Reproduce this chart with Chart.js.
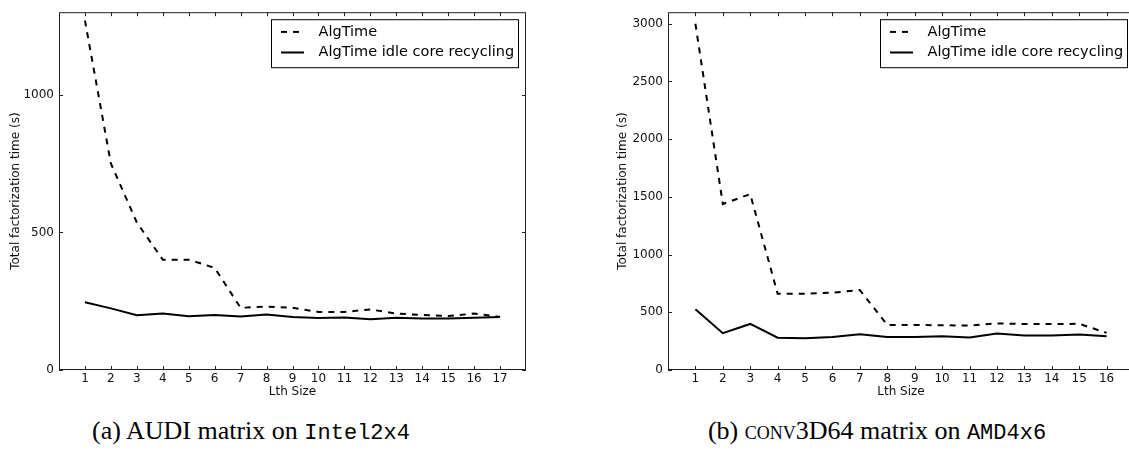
<!DOCTYPE html>
<html lang="en">
<head>
    <meta charset="UTF-8">
    <title>AlgTime vs AlgTime idle core recycling</title>
    <style>
        html, body {
            margin: 0;
            padding: 0;
            width: 1129px;
            height: 457px;
            overflow: hidden;
            background: #fff;
        }
        .plot {
            position: absolute;
            top: 0;
        }
        #audiChart { left: 0; }
        #convChart { left: 560px; }
        .caption {
            position: absolute;
            top: 418px;
            width: 500px;
            text-align: center;
            font-family: "Liberation Serif", serif;
            font-size: 26px;
            line-height: 26px;
            color: #000;
            white-space: nowrap;
        }
        .tt {
            font-family: "Liberation Mono", monospace;
            font-size: 22px;
        }
        .sc { font-variant: small-caps; }
    </style>
    <script src="https://cdn.jsdelivr.net/npm/chart.js"></script>
</head>
<body>
    <canvas id="audiChart" class="plot" width="560" height="400"></canvas>
    <canvas id="convChart" class="plot" width="600" height="400"></canvas>
    <div class="caption" style="left:1px">(a) AUDI matrix on <span class="tt">Intel2x4</span></div>
    <div class="caption" style="left:627px">(b) <span class="sc">conv</span>3D64 matrix on <span class="tt">AMD4x6</span></div>

    <script>
        // (a) AUDI matrix on Intel2x4
        const lthAudi = [1, 2, 3, 4, 5, 6, 7, 8, 9, 10, 11, 12, 13, 14, 15, 16, 17];
        const algTimeAudi = [1270, 750, 536, 401, 401, 371, 226, 230, 226, 211, 211, 220, 205, 200, 196, 205, 193];
        const recyclingAudi = [246, 224, 199, 205, 195, 200, 194, 202, 193, 189, 191, 184, 190, 187, 187, 190, 193];
        const yTicksAudi = [0, 500, 1000];

        // (b) conv3D64 matrix on AMD4x6
        const lthConv = [1, 2, 3, 4, 5, 6, 7, 8, 9, 10, 11, 12, 13, 14, 15, 16];
        const algTimeConv = [3000, 1438, 1524, 660, 660, 670, 692, 390, 390, 388, 385, 404, 398, 398, 400, 322];
        const recyclingConv = [527, 319, 399, 280, 275, 285, 310, 285, 285, 292, 282, 316, 299, 299, 307, 292];
        const yTicksConv = [0, 500, 1000, 1500, 2000, 2500, 3000];

        const seriesNames = ['AlgTime', 'AlgTime idle core recycling'];
        const FONT = 'DejaVu Sans';

        // frame, inward ticks on all four sides, and a boxed legend inside the plot
        const framePlugin = {
            id: 'frame',
            afterDatasetsDraw(chart, args, opts) {
                const { ctx, chartArea: a, scales: { x, y } } = chart;
                ctx.save();
                ctx.strokeStyle = '#222';
                ctx.lineWidth = 1;
                ctx.setLineDash([]);
                ctx.strokeRect(a.left + 0.5, a.top + 0.5, a.right - a.left - 1, a.bottom - a.top - 1);
                ctx.beginPath();
                x.ticks.forEach(t => {
                    const px = Math.round(x.getPixelForValue(t.value)) + 0.5;
                    ctx.moveTo(px, a.bottom); ctx.lineTo(px, a.bottom - 4);
                    ctx.moveTo(px, a.top); ctx.lineTo(px, a.top + 4);
                });
                y.ticks.forEach(t => {
                    const py = Math.round(y.getPixelForValue(t.value)) + 0.5;
                    ctx.moveTo(a.left, py); ctx.lineTo(a.left + 4, py);
                    ctx.moveTo(a.right, py); ctx.lineTo(a.right - 4, py);
                });
                ctx.stroke();

                // legend
                ctx.font = '14.5px "' + FONT + '"';
                const labels = chart.data.datasets.map(d => d.label);
                const textW = Math.max(...labels.map(l => ctx.measureText(l).width));
                const boxW = Math.round(10 + 23 + 14.5 + textW + 4);
                const boxH = 48;
                const bx = a.right - opts.inset - boxW;
                const by = a.top + 7;
                ctx.fillStyle = '#fff';
                ctx.fillRect(bx, by, boxW, boxH);
                ctx.strokeStyle = '#000';
                ctx.strokeRect(bx + 0.5, by + 0.5, boxW, boxH);
                const rows = [12.7, 33.3];
                chart.data.datasets.forEach((d, i) => {
                    const ry = by + rows[i];
                    ctx.beginPath();
                    ctx.setLineDash(d.borderDash || []);
                    ctx.lineWidth = d.borderWidth;
                    ctx.strokeStyle = d.borderColor;
                    ctx.moveTo(bx + 10, ry);
                    ctx.lineTo(bx + 33, ry);
                    ctx.stroke();
                    ctx.setLineDash([]);
                    ctx.fillStyle = '#000';
                    ctx.textBaseline = 'middle';
                    ctx.textAlign = 'left';
                    ctx.fillText(d.label, bx + 47.5, ry);
                });
                ctx.restore();
            }
        };

        function makeChart(id, lth, algTime, recycling, yTicks, cfg) {
            const ctx = document.getElementById(id).getContext('2d');
            return new Chart(ctx, {
                type: 'line',
                data: {
                    datasets: [
                        {
                            label: seriesNames[0],
                            data: lth.map((v, i) => ({ x: v, y: algTime[i] })),
                            borderColor: '#000',
                            borderWidth: 2,
                            borderDash: [6, 6],
                            pointRadius: 0,
                            tension: 0,
                            fill: false
                        },
                        {
                            label: seriesNames[1],
                            data: lth.map((v, i) => ({ x: v, y: recycling[i] })),
                            borderColor: '#000',
                            borderWidth: 2,
                            pointRadius: 0,
                            tension: 0,
                            fill: false
                        }
                    ]
                },
                options: {
                    responsive: false,
                    animation: false,
                    events: [],
                    layout: { padding: { top: 7, right: cfg.padRight, left: 0, bottom: 0 } },
                    plugins: {
                        legend: { display: false },
                        tooltip: { enabled: false },
                        frame: { inset: cfg.inset }
                    },
                    scales: {
                        x: {
                            type: 'linear',
                            min: 0,
                            max: cfg.xMax,
                            afterBuildTicks: s => { s.ticks = lth.map(v => ({ value: v })); },
                            afterFit: s => { s.height = 30; },
                            grid: { display: false, drawTicks: false },
                            border: { display: false },
                            ticks: {
                                autoSkip: false,
                                maxRotation: 0,
                                padding: 1.5,
                                color: '#111',
                                font: { family: FONT, size: 12 },
                                callback: v => String(v)
                            },
                            title: {
                                display: true,
                                text: 'Lth Size',
                                color: '#111',
                                padding: { top: 0, bottom: 1 },
                                font: { family: FONT, size: 12 }
                            }
                        },
                        y: {
                            min: 0,
                            max: cfg.yMax,
                            afterBuildTicks: s => { s.ticks = yTicks.map(v => ({ value: v })); },
                            afterFit: s => { s.width = cfg.yWidth; },
                            grid: { display: false, drawTicks: false },
                            border: { display: false },
                            ticks: {
                                padding: 5,
                                color: '#111',
                                font: { family: FONT, size: 12 },
                                callback: v => String(v)
                            },
                            title: {
                                display: true,
                                text: 'Total factorization time (s)',
                                color: '#111',
                                padding: { top: cfg.titlePad, bottom: 0 },
                                font: { family: FONT, size: 12 }
                            }
                        }
                    }
                },
                plugins: [framePlugin]
            });
        }

        makeChart('audiChart', lthAudi, algTimeAudi, recyclingAudi, yTicksAudi,
            { xMax: 18, yMax: 1300, yWidth: 59, padRight: 34, titlePad: 8.3, inset: 8 });
        makeChart('convChart', lthConv, algTimeConv, recyclingConv, yTicksConv,
            { xMax: 17, yMax: 3100, yWidth: 108, padRight: 26, titlePad: 55.8, inset: 7 });
    </script>
</body>
</html>
